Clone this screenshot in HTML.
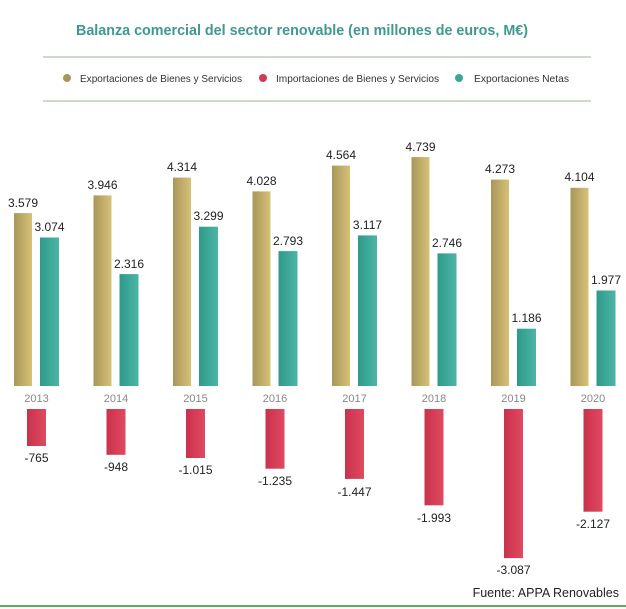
<!DOCTYPE html><html><head><meta charset="utf-8"><style>body{margin:0;background:#fff}svg{display:block}text{font-family:"Liberation Sans",sans-serif}</style></head><body>
<svg width="626" height="609" xmlns="http://www.w3.org/2000/svg">
<defs>
<linearGradient id="g" x1="0" x2="1"><stop offset="0" stop-color="#a8975a"/><stop offset="1" stop-color="#d7c176"/></linearGradient>
<linearGradient id="t" x1="0" x2="1"><stop offset="0" stop-color="#2f9a8a"/><stop offset="1" stop-color="#4cb5a6"/></linearGradient>
<linearGradient id="r" x1="0" x2="1"><stop offset="0" stop-color="#c9324c"/><stop offset="1" stop-color="#e04a60"/></linearGradient>
</defs>
<text x="76" y="35" font-size="15" font-weight="bold" fill="#3e9a8e" textLength="452" lengthAdjust="spacingAndGlyphs">Balanza comercial del sector renovable (en millones de euros, M€)</text>
<line x1="43" y1="57" x2="591" y2="57" stroke="#b5d3b8" stroke-width="1.5"/>
<line x1="43" y1="101" x2="591" y2="101" stroke="#b5d3b8" stroke-width="1.5"/>
<g font-size="10.5" fill="#333">
<circle cx="67" cy="78" r="4" fill="#a8975a"/><text x="80" y="82" textLength="162" lengthAdjust="spacingAndGlyphs">Exportaciones de Bienes y Servicios</text>
<circle cx="263" cy="78" r="4" fill="#d03a52"/><text x="276" y="82" textLength="163" lengthAdjust="spacingAndGlyphs">Importaciones de Bienes y Servicios</text>
<circle cx="459" cy="78" r="4" fill="#3aa898"/><text x="474" y="82" textLength="95" lengthAdjust="spacingAndGlyphs">Exportaciones Netas</text>
</g>
<g fill="url(#g)">
<rect x="14" y="213.1" width="18" height="172.9"/><rect x="93.5" y="195.4" width="18" height="190.6"/><rect x="173" y="177.6" width="18" height="208.4"/><rect x="252.5" y="191.4" width="18" height="194.6"/><rect x="332" y="165.6" width="18" height="220.4"/><rect x="411.5" y="157.1" width="18" height="228.9"/><rect x="491" y="179.6" width="18" height="206.4"/><rect x="570.5" y="187.8" width="18" height="198.2"/>
</g>
<g fill="url(#t)">
<rect x="40" y="237.5" width="19" height="148.5"/><rect x="119.5" y="274.1" width="19" height="111.9"/><rect x="199" y="226.7" width="19" height="159.3"/><rect x="278.5" y="251.1" width="19" height="134.9"/><rect x="358" y="235.4" width="19" height="150.6"/><rect x="437.5" y="253.4" width="19" height="132.6"/><rect x="517" y="328.7" width="19" height="57.3"/><rect x="596.5" y="290.5" width="19" height="95.5"/>
</g>
<g fill="url(#r)">
<rect x="27" y="409" width="19" height="37"/><rect x="106.5" y="409" width="19" height="45.8"/><rect x="186" y="409" width="19" height="49"/><rect x="265.5" y="409" width="19" height="59.7"/><rect x="345" y="409" width="19" height="69.9"/><rect x="424.5" y="409" width="19" height="96.3"/><rect x="504" y="409" width="19" height="149.1"/><rect x="583.5" y="409" width="19" height="102.7"/>
</g>
<g font-size="12" fill="#222" text-anchor="middle">
<text x="23" y="207">3.579</text><text x="102.5" y="189">3.946</text><text x="182" y="171">4.314</text><text x="261.5" y="185">4.028</text><text x="341" y="159">4.564</text><text x="420.5" y="151">4.739</text><text x="500" y="173">4.273</text><text x="579.5" y="181">4.104</text>
<text x="49.5" y="231">3.074</text><text x="129" y="268">2.316</text><text x="208.5" y="220">3.299</text><text x="288" y="245">2.793</text><text x="367.5" y="229">3.117</text><text x="447" y="247">2.746</text><text x="526.5" y="322">1.186</text><text x="606" y="284">1.977</text>
<text x="36.5" y="462">-765</text><text x="116" y="471">-948</text><text x="195.5" y="474">-1.015</text><text x="275" y="485">-1.235</text><text x="354.5" y="496">-1.447</text><text x="434" y="522">-1.993</text><text x="513.5" y="574">-3.087</text><text x="593" y="528">-2.127</text>
</g>
<g font-size="11" fill="#888" text-anchor="middle">
<text x="36.5" y="402">2013</text><text x="116" y="402">2014</text><text x="195.5" y="402">2015</text><text x="275" y="402">2016</text><text x="354.5" y="402">2017</text><text x="434" y="402">2018</text><text x="513.5" y="402">2019</text><text x="593" y="402">2020</text>
</g>
<text x="619" y="597" text-anchor="end" font-size="12.5" fill="#222">Fuente: APPA Renovables</text>
<line x1="0" y1="606" x2="626" y2="606" stroke="#6aa860" stroke-width="2"/>
</svg>
</body></html>
